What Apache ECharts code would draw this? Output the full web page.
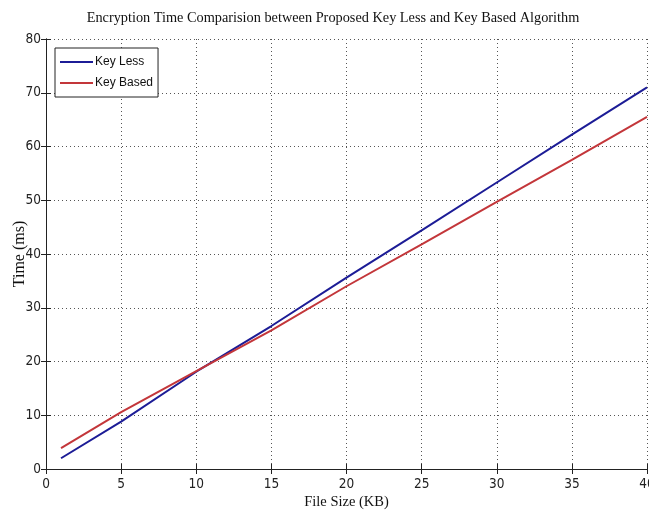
<!DOCTYPE html>
<html><head><meta charset="utf-8">
<script src="https://cdn.jsdelivr.net/npm/echarts@6/dist/echarts.min.js"></script>
<style>html,body{margin:0;padding:0;background:#fff}#c{width:649px;height:514px}</style>
</head><body><div id="c"></div>
<script>
const fileSizes = [1, 5, 10, 15, 20, 25, 30, 35, 40];
const keyLess = [2, 8.8, 18.1, 26.6, 35.6, 44.4, 53.3, 62.2, 71];
const keyBased = [3.9, 10.6, 18.2, 25.8, 34.0, 41.8, 49.7, 57.5, 65.5];
const titleText = 'Encryption Time Comparision between Proposed Key Less and Key Based Algorithm';
const xName = 'File Size (KB)';
const yName = 'Time (ms)';

const chart = echarts.init(document.getElementById('c'));
const tickFont = {fontFamily: "'DejaVu Sans Condensed', 'Liberation Sans', Arial", fontSize: 13.5, color: '#222'};
const serif = "'Liberation Serif', 'Times New Roman', serif";
chart.setOption({
  animation: false,
  title: {text: titleText, left: 328, top: 6, textAlign: 'center',
    textStyle: {fontFamily: serif, fontSize: 14.3, fontWeight: 'normal', color: '#111'}},
  grid: {left: 46, right: 2, top: 39, bottom: 45, outerBoundsMode: 'none', containLabel: false},
  legend: {
    left: 55, top: 48, orient: 'vertical', itemWidth: 33, itemHeight: 2, itemGap: 9,
    padding: [8, 5, 8, 5], borderColor: '#222', borderWidth: 1, backgroundColor: '#fff',
    icon: 'rect',
    textStyle: {fontFamily: "'Liberation Sans', Arial", fontSize: 12, color: '#111', padding: [0, 0, 0, -3]},
    data: ['Key Less', 'Key Based']
  },
  xAxis: [{
    type: 'value', min: 0, max: 40, interval: 5, position: 'bottom',
    name: xName, nameLocation: 'middle', nameGap: 26, nameMoveOverlap: false,
    nameTextStyle: {fontFamily: serif, fontSize: 14.5, color: '#111', verticalAlign: 'top'},
    axisLine: {lineStyle: {color: '#222', width: 1}},
    axisTick: {inside: true, length: 5, lineStyle: {color: '#222'}},
    axisLabel: Object.assign({margin: 8}, tickFont),
    splitLine: {show: true, lineStyle: {color: '#555', type: [1, 3], width: 1}}
  }, {
    type: 'value', min: 0, max: 40, interval: 5, position: 'top',
    axisLine: {lineStyle: {color: '#222', width: 1}},
    axisTick: {inside: true, length: 5, lineStyle: {color: '#222'}},
    axisLabel: {show: false}, splitLine: {show: false}
  }],
  yAxis: [{
    type: 'value', min: 0, max: 80, interval: 10, position: 'left',
    name: yName, nameLocation: 'middle', nameGap: 18, nameMoveOverlap: false,
    nameTextStyle: {fontFamily: serif, fontSize: 16, color: '#111'},
    axisLine: {show: true, lineStyle: {color: '#222', width: 1}},
    axisTick: {show: true, inside: true, length: 5, lineStyle: {color: '#222'}},
    axisLabel: Object.assign({margin: 5}, tickFont),
    splitLine: {show: true, lineStyle: {color: '#555', type: [1, 3], width: 1}}
  }, {
    type: 'value', min: 0, max: 80, interval: 10, position: 'right',
    axisLine: {show: true, lineStyle: {color: '#222', width: 1}},
    axisTick: {show: true, inside: true, length: 5, lineStyle: {color: '#222'}},
    axisLabel: {show: false}, splitLine: {show: false}
  }],
  series: [
    {name: 'Key Less', type: 'line', showSymbol: false, symbol: 'none',
      data: fileSizes.map((x, i) => [x, keyLess[i]]),
      lineStyle: {color: '#1c1c96', width: 2}, itemStyle: {color: '#1c1c96'}},
    {name: 'Key Based', type: 'line', showSymbol: false, symbol: 'none',
      data: fileSizes.map((x, i) => [x, keyBased[i]]),
      lineStyle: {color: '#c3363a', width: 2}, itemStyle: {color: '#c3363a'}}
  ]
});
</script></body></html>
